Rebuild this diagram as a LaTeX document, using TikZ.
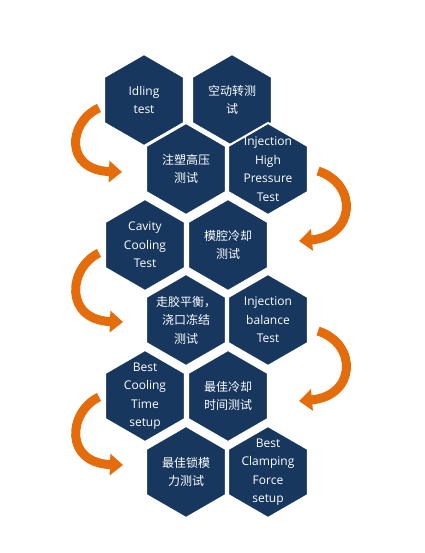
\documentclass[tikz,border=0pt]{standalone}
\usepackage{fontspec}
\setmainfont{Open Sans}
\newfontfamily\cjk{Noto Sans CJK SC}
\usetikzlibrary{shapes.geometric,arrows.meta}
\definecolor{hexblue}{RGB}{23,55,94}
\definecolor{turnorange}{RGB}{228,108,10}

\begin{document}
\begin{tikzpicture}
		[x=1pt,y=-1pt,
		 hexa/.style={regular polygon,regular polygon sides=6,shape border rotate=30,minimum size=92pt,inner sep=0pt,fill=hexblue,draw=white,line width=2pt},
		 txt/.style={text=white,align=center,font=\fontsize{12}{18.5}\selectfont},
		 cn/.style={text=white,align=center,font=\cjk\fontsize{12}{18.5}\selectfont},
		 turn/.style={line width=9pt,turnorange,-{Triangle[length=13pt,width=21pt]}}]
		\useasboundingbox (0,0) rectangle (424,553);

		% first and second row of hexagons
		\node [hexa] (idle) at (144,100) {};
		\node [txt] (idlet) at (idle) {Idling\\test};
		\node [hexa] (idlecn) at (232,100) {};
		\node [cn] (idlecnt) at (idlecn) {空动转测\\试};
		\node [hexa] (highcn) at (186,169) {};
		\node [cn] (highcnt) at (highcn) {注塑高压\\测试};
		\node [hexa] (high) at (268,169) {};
		\node [txt] (hight) at (high) {Injection\\High\\Pressure\\Test};

		% third and fourth row
		\node [hexa] (cool) at (145,245) {};
		\node [txt] (coolt) at (cool) {Cavity\\Cooling\\Test};
		\node [hexa] (coolcn) at (228,245) {};
		\node [cn] (coolcnt) at (coolcn) {模腔冷却\\测试};
		\node [hexa] (balcn) at (186,320) {};
		\node [cn] (balcnt) at (balcn) {走胶平衡，\\浇口冻结\\测试};
		\node [hexa] (bal) at (268,320) {};
		\node [txt] (balt) at (bal) {Injection\\balance\\Test};

		% fifth and sixth row
		\node [hexa] (time) at (145,396) {};
		\node [txt] (timet) at (time) {Best\\Cooling\\Time\\setup};
		\node [hexa] (timecn) at (228,396) {};
		\node [cn] (timecnt) at (timecn) {最佳冷却\\时间测试};
		\node [hexa] (clampcn) at (186,472) {};
		\node [cn] (clampcnt) at (clampcn) {最佳锁模\\力测试};
		\node [hexa] (clamp) at (268,472) {};
		\node [txt] (clampt) at (clamp) {Best\\Clamping\\Force\\setup};

		% the curved arrows
		\coordinate (l1a) at (99,108);
		\coordinate (l1b) at (122,172);
		\coordinate (l2a) at (99,253);
		\coordinate (l2b) at (123,322);
		\coordinate (l3a) at (99,397);
		\coordinate (l3b) at (123,465);
		\coordinate (r1a) at (318,171);
		\coordinate (r1b) at (299,241);
		\coordinate (r2a) at (318,331);
		\coordinate (r2b) at (299,401);
		\draw [turn] (l1a) .. controls (68,122) and (64,170) .. (l1b);
		\draw [turn] (l2a) .. controls (68,268) and (64,320) .. (l2b);
		\draw [turn] (l3a) .. controls (68,412) and (64,463) .. (l3b);
		\draw [turn] (r1a) .. controls (358,184) and (356,236) .. (r1b);
		\draw [turn] (r2a) .. controls (358,344) and (356,396) .. (r2b);
	\end{tikzpicture}
\end{document}
